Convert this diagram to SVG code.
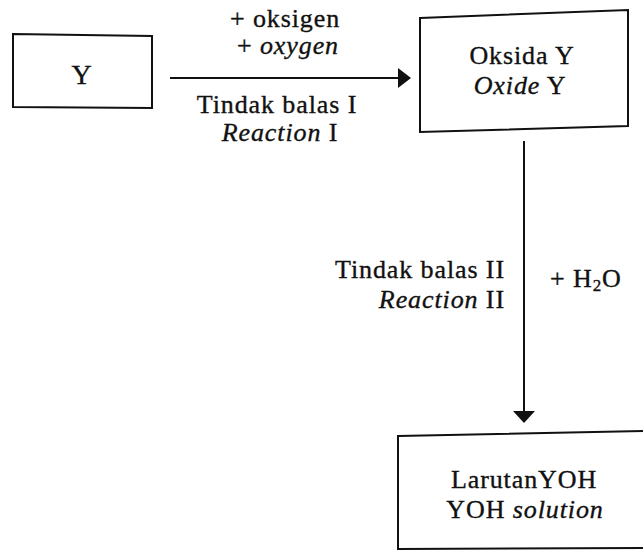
<svg xmlns="http://www.w3.org/2000/svg" width="643" height="552" viewBox="0 0 643 552">
<defs>
<style>
.box{fill:#fff;stroke:#111;stroke-width:2}
.t{font-family:"Liberation Serif","Times New Roman",serif;font-size:26px;letter-spacing:0.9px;fill:#111;stroke:#111;stroke-width:0.35px}
.i{font-style:italic}
.c{text-anchor:middle}
.e{text-anchor:end}
.ln{stroke:#111;stroke-width:2;fill:none}
</style>
<marker id="ah" markerWidth="13" markerHeight="20" viewBox="0 0 13 20" refX="12" refY="10" orient="auto" markerUnits="userSpaceOnUse">
<path d="M0,0 L13,10 L0,20 Z" fill="#111"/>
</marker>
<marker id="av" markerWidth="12" markerHeight="22" viewBox="0 0 12 22" refX="11" refY="11" orient="auto" markerUnits="userSpaceOnUse">
<path d="M0,0 L12,11 L0,22 Z" fill="#111"/>
</marker>
</defs>
<rect width="643" height="552" fill="#fff"/>
<g id="nodeY">
<polygon class="box" points="13,34 152,36 152,108 13,107"/>
<text class="t c" x="82" y="84" style="font-size:28px">Y</text>
</g>
<g id="nodeOksida">
<polygon class="box" points="420,18 628,10 628,126 420,132"/>
<text class="t c" x="522" y="64">Oksida Y</text>
<text class="t c" x="520" y="94"><tspan class="i">Oxide</tspan> Y</text>
</g>
<g id="nodeLarutan">
<polygon class="box" points="398,436 645,431 645,548 398,549"/>
<text class="t c" x="524" y="488">LarutanYOH</text>
<text class="t c" x="525" y="518">YOH <tspan class="i">solution</tspan></text>
</g>
<g id="connectors">
<line class="ln" x1="170" y1="78" x2="410" y2="78" marker-end="url(#ah)"/>
<line class="ln" x1="524" y1="141" x2="524" y2="422" marker-end="url(#av)"/>
<text class="t c" x="285" y="27">+ oksigen</text>
<text class="t c" x="288" y="54">+ <tspan class="i">oxygen</tspan></text>
<text class="t c" x="277" y="113">Tindak balas I</text>
<text class="t c" x="280" y="141"><tspan class="i">Reaction</tspan> I</text>
<text class="t e" x="505" y="278">Tindak balas II</text>
<text class="t e" x="505" y="308"><tspan class="i">Reaction</tspan> II</text>
<text class="t" x="550" y="287">+ H<tspan font-size="17" dy="4">2</tspan><tspan dy="-4">O</tspan></text>
</g>
</svg>
